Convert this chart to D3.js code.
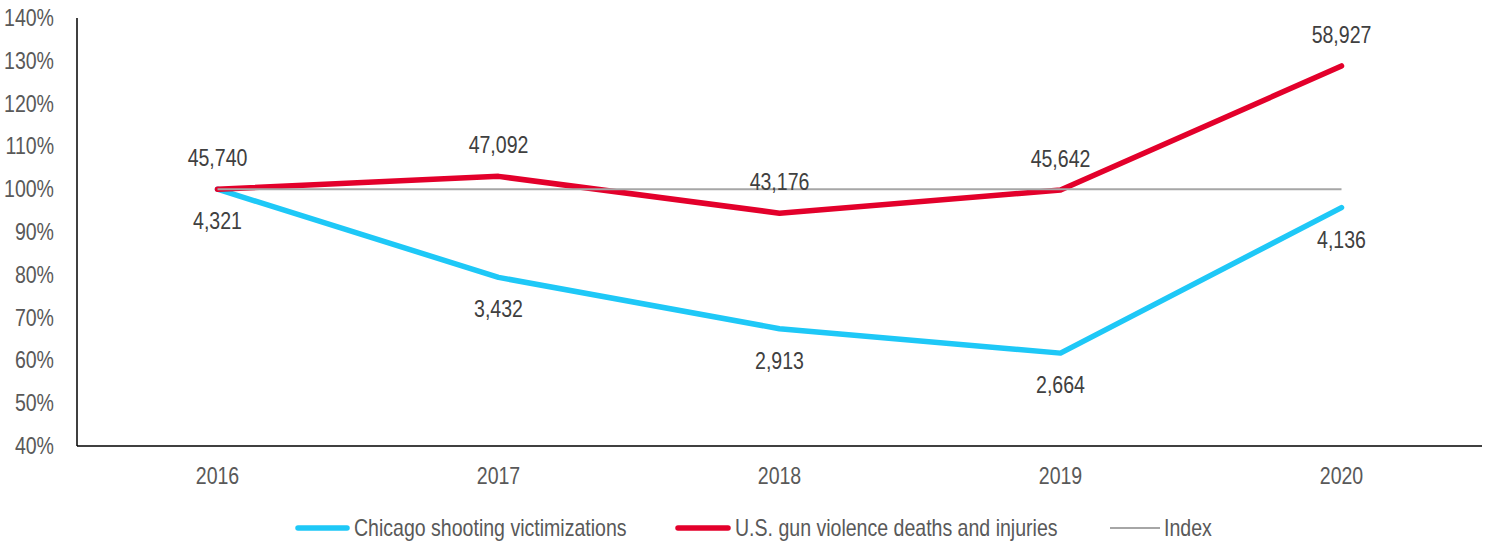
<!DOCTYPE html>
<html>
  <head>
    <meta charset="utf-8">
    <title>Chicago vs U.S. gun violence index</title>
    <script src="https://d3js.org/d3.v7.min.js"></script>
    <style>
      body { margin: 0; background: #fff; }
      svg text { font-family: "Liberation Sans Narrow", "Arial Narrow", "Liberation Sans", sans-serif; fill: #595959; font-size: 23px; }
    </style>
  </head>
  <body>
    <svg id="chart" width="1489" height="542"></svg>
    <script>
      // data
      var years = ["2016", "2017", "2018", "2019", "2020"];
      var chicagoCounts = [4321, 3432, 2913, 2664, 4136];
      var chicagoIndex = [100, 79.4, 67.4, 61.7, 95.7];
      var usCounts = [45740, 47092, 43176, 45642, 58927];
      var usIndex = [100, 103.0, 94.4, 99.8, 128.8];
      var indexLine = [100, 100, 100, 100, 100];
      var yTicks = [40, 50, 60, 70, 80, 90, 100, 110, 120, 130, 140];
      var legendNames = ["Chicago shooting victimizations", "U.S. gun violence deaths and injuries", "Index"];

      var blue = "#1ec8f7", red = "#e3002b", grey = "#a6a6a6";
      var squeeze = 0.85; // no narrow font installed, so squash the regular one

      svg = d3.select("#chart");
      margin = { left: 77, right: 7, top: 18, bottom: 96 };
      width = 1489 - margin.left - margin.right;
      height = 542 - margin.top - margin.bottom;
      g = svg.append("g").attr("transform", "translate(" + margin.left + "," + margin.top + ")");

      x = d3.scaleBand().domain(years).range([0, width]);
      y = d3.scaleLinear().domain([40, 140]).range([height, 0]);
      cx = function(d) { return x(d) + x.bandwidth() / 2; };

      function narrowText(sel, px, py) {
        return sel.append("text")
          .attr("transform", "translate(" + px + "," + py + ") scale(" + squeeze + ",1)")
          .attr("dy", "0.35em");
      }

      // y tick labels
      yTicks.forEach(function(d) {
        narrowText(g, -23, y(d)).attr("text-anchor", "end").text(d + "%");
      });

      // x tick labels
      years.forEach(function(d) {
        narrowText(g, cx(d), height + 30).attr("text-anchor", "middle").text(d);
      });

      line = d3.line()
        .x(function(d, i) { return cx(years[i]); })
        .y(function(d) { return y(d); });

      g.append("path").attr("d", line(chicagoIndex))
        .attr("fill", "none").attr("stroke", blue).attr("stroke-width", 5.5)
        .attr("stroke-linecap", "round").attr("stroke-linejoin", "round");
      g.append("path").attr("d", line(usIndex))
        .attr("fill", "none").attr("stroke", red).attr("stroke-width", 5.5)
        .attr("stroke-linecap", "round").attr("stroke-linejoin", "round");
      g.append("path").attr("d", line(indexLine))
        .attr("fill", "none").attr("stroke", grey).attr("stroke-width", 2);

      // data labels
      fmt = d3.format(",");
      usCounts.forEach(function(d, i) {
        narrowText(g, cx(years[i]), y(usIndex[i]) - 31)
          .attr("text-anchor", "middle").style("fill", "#404040").text(fmt(d));
      });
      chicagoCounts.forEach(function(d, i) {
        narrowText(g, cx(years[i]), y(chicagoIndex[i]) + 32)
          .attr("text-anchor", "middle").style("fill", "#404040").text(fmt(d));
      });

      // axis lines
      g.append("line").attr("x1", 0).attr("x2", 0).attr("y1", 0).attr("y2", height)
        .attr("stroke", "#000").attr("stroke-width", 1.5);
      g.append("line").attr("x1", 0).attr("x2", width).attr("y1", height).attr("y2", height)
        .attr("stroke", "#000").attr("stroke-width", 1.5);

      // legend
      legend = svg.append("g").attr("transform", "translate(0,528)");
      legendX = [295, 675, 1110];
      legendLen = [55, 56, 50];
      legendColors = [blue, red, grey];
      legendWidths = [5.5, 5.5, 2];
      legendNames.forEach(function(name, i) {
        legend.append("line")
          .attr("x1", legendX[i] + (i < 2 ? 3 : 0)).attr("x2", legendX[i] + legendLen[i] - (i < 2 ? 3 : 0))
          .attr("y1", 0).attr("y2", 0)
          .attr("stroke", legendColors[i]).attr("stroke-width", legendWidths[i])
          .attr("stroke-linecap", i < 2 ? "round" : "butt");
        narrowText(legend, legendX[i] + legendLen[i] + 4, 0).text(name);
      });
    </script>
  </body>
</html>
